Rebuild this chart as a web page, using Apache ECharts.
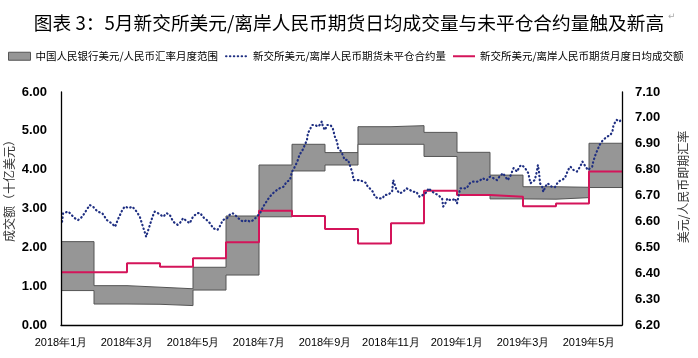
<!DOCTYPE html>
<html><head><meta charset="utf-8">
<script src="https://cdn.jsdelivr.net/npm/echarts@6/dist/echarts.min.js"></script>
<style>html,body{margin:0;padding:0;background:#fff}#c{width:698px;height:358px}</style>
</head><body><div id="c"></div>
<script>
// ---------------- data ----------------
const chartTitle = '图表 3：5月新交所美元/离岸人民币期货日均成交量与未平仓合约量触及新高';
const leftAxisTitle = '成交额（十亿美元）';
const rightAxisTitle = '美元/人民币即期汇率';
const seriesNames = ['中国人民银行美元/人民币汇率月度范围', '新交所美元/离岸人民币期货未平仓合约量', '新交所美元/离岸人民币期货月度日均成交额'];

const months = ['2018-01','2018-02','2018-03','2018-04','2018-05','2018-06','2018-07','2018-08','2018-09','2018-10','2018-11','2018-12','2019-01','2019-02','2019-03','2019-04','2019-05'];
const bandLow  = [6.333, 6.281, 6.280, 6.275, 6.335, 6.393, 6.618, 6.795, 6.818, 6.898, 6.898, 6.851, 6.702, 6.687, 6.686, 6.692, 6.731];
const bandHigh = [6.522, 6.352, 6.346, 6.340, 6.423, 6.621, 6.818, 6.898, 6.866, 6.966, 6.970, 6.944, 6.867, 6.779, 6.734, 6.732, 6.902];
const avgVolume = [1.36, 1.36, 1.59, 1.50, 1.72, 2.13, 2.94, 2.81, 2.47, 2.10, 2.62, 3.46, 3.35, 3.30, 3.06, 3.13, 3.95];

const oiDates = ['2018-01-02','2018-01-03','2018-01-08','2018-01-11','2018-01-14','2018-01-17','2018-01-21','2018-01-24','2018-01-28','2018-01-31',
'2018-02-04','2018-02-08','2018-02-12','2018-02-16','2018-02-19','2018-02-21','2018-02-25','2018-02-27',
'2018-03-03','2018-03-06','2018-03-10','2018-03-13','2018-03-16','2018-03-18','2018-03-19','2018-03-21','2018-03-25','2018-03-27','2018-03-30',
'2018-04-04','2018-04-07','2018-04-10','2018-04-13','2018-04-17','2018-04-19','2018-04-22','2018-04-26','2018-04-28',
'2018-05-01','2018-05-05','2018-05-08','2018-05-10','2018-05-14','2018-05-17','2018-05-20','2018-05-24','2018-05-26','2018-05-29',
'2018-06-02','2018-06-04','2018-06-07','2018-06-11','2018-06-14','2018-06-17','2018-06-20','2018-06-23','2018-06-26','2018-06-29',
'2018-07-02','2018-07-05','2018-07-08','2018-07-11','2018-07-14','2018-07-18','2018-07-21','2018-07-24','2018-07-27','2018-07-30',
'2018-08-01','2018-08-03','2018-08-06','2018-08-08','2018-08-11','2018-08-15','2018-08-16','2018-08-20','2018-08-23','2018-08-25','2018-08-27','2018-08-29','2018-08-30',
'2018-09-01','2018-09-03','2018-09-06','2018-09-07','2018-09-08','2018-09-10','2018-09-12','2018-09-13','2018-09-14','2018-09-16','2018-09-17','2018-09-19','2018-09-22','2018-09-24','2018-09-26','2018-09-27',
'2018-10-01','2018-10-03','2018-10-06','2018-10-09','2018-10-10','2018-10-12','2018-10-15','2018-10-17','2018-10-20','2018-10-24','2018-10-26','2018-10-29',
'2018-11-02','2018-11-03','2018-11-04','2018-11-06','2018-11-09','2018-11-12','2018-11-15','2018-11-18','2018-11-21','2018-11-24','2018-11-27','2018-11-30',
'2018-12-04','2018-12-05','2018-12-09','2018-12-11','2018-12-14','2018-12-18','2018-12-19','2018-12-21','2018-12-23','2018-12-25','2018-12-28','2018-12-30',
'2019-01-01','2019-01-02','2019-01-04','2019-01-07','2019-01-10','2019-01-13','2019-01-16','2019-01-20','2019-01-23','2019-01-25','2019-01-29',
'2019-02-01','2019-02-04','2019-02-07','2019-02-09','2019-02-12','2019-02-16','2019-02-18','2019-02-21','2019-02-24','2019-02-26','2019-02-28',
'2019-03-03','2019-03-06','2019-03-08','2019-03-10','2019-03-12','2019-03-14','2019-03-15','2019-03-16','2019-03-17','2019-03-19','2019-03-20','2019-03-22','2019-03-24','2019-03-28','2019-03-31',
'2019-04-03','2019-04-06','2019-04-09','2019-04-12','2019-04-14','2019-04-17','2019-04-20','2019-04-23','2019-04-25','2019-04-27','2019-04-30',
'2019-05-04','2019-05-05','2019-05-07','2019-05-09','2019-05-11','2019-05-14','2019-05-18','2019-05-21','2019-05-23','2019-05-24','2019-05-27','2019-05-30','2019-05-31'];
const oiValues = [2.66,2.88,2.92,2.83,2.75,2.70,2.79,2.92,3.09,3.05,
2.92,2.88,2.70,2.62,2.53,2.70,2.96,3.05,
3.01,3.05,2.92,2.79,2.53,2.36,2.27,2.45,2.79,2.92,2.88,
2.79,2.88,2.83,2.66,2.58,2.62,2.75,2.66,2.62,
2.79,2.88,2.88,2.79,2.70,2.62,2.49,2.45,2.53,2.70,
2.75,2.83,2.88,2.79,2.70,2.66,2.70,2.66,2.70,2.79,
2.88,3.05,3.18,3.30,3.39,3.48,3.53,3.56,3.69,3.73,
3.95,4.04,4.21,4.38,4.51,4.76,4.94,5.15,5.15,5.11,5.15,5.24,5.11,
5.02,5.15,5.15,5.15,5.07,4.85,4.72,4.55,4.51,4.46,4.38,4.25,4.25,4.08,3.91,3.73,
3.73,3.73,3.69,3.65,3.56,3.52,3.43,3.30,3.26,3.26,3.35,3.35,
3.43,3.73,3.69,3.48,3.39,3.43,3.52,3.48,3.43,3.43,3.30,3.35,
3.43,3.52,3.43,3.39,3.35,3.26,3.05,3.13,3.26,3.22,3.22,3.26,
3.13,3.09,3.52,3.52,3.52,3.65,3.69,3.69,3.73,3.78,3.73,
3.82,3.78,3.73,3.82,3.91,3.73,3.82,4.04,3.95,4.08,4.12,
4.04,3.91,3.65,3.69,3.73,3.95,4.12,3.95,3.65,3.56,3.43,3.56,3.65,3.56,3.55,
3.69,3.73,3.78,3.99,4.08,3.99,3.95,4.08,4.21,4.12,3.99,
4.08,4.21,4.38,4.51,4.64,4.76,4.85,4.89,4.98,5.15,5.28,5.24,5.32];

// ---------------- helpers ----------------
function monthIndexOf(dateStr) {
  const p = dateStr.split('-').map(Number);
  const idx = (p[0] - 2018) * 12 + (p[1] - 1);
  if (p.length < 3) return idx;
  const dim = new Date(p[0], p[1], 0).getDate();
  return idx + (p[2] - 1) / dim;
}
function stepData(vals) {
  const d = months.map((m, i) => [monthIndexOf(m), vals[i]]);
  d.push([monthIndexOf(months[months.length - 1]) + 1, vals[vals.length - 1]]);
  return d;
}
const bandLowData = stepData(bandLow);
const bandHighData = stepData(bandHigh);
const volumeData = stepData(avgVolume);
const oiData = oiDates.map((d, i) => [monthIndexOf(d), oiValues[i]]);

const chart = echarts.init(document.getElementById('c'), null, {renderer: 'canvas'});
const axisFont = 'Liberation Sans, Arial, sans-serif';
const cjkFont = 'Noto Sans CJK SC, sans-serif';
const bandGray = '#969696';
const bandEdge = '#555';

function legendAt(left, item) {
  return {
    left: left, top: 51, padding: 0, itemGap: 0, itemWidth: 22, itemHeight: 8,
    textStyle: {fontSize: 10.5, color: '#000', fontFamily: cjkFont},
    data: [item]
  };
}

chart.setOption({
  animation: false,
  backgroundColor: '#fff',
  title: {
    text: chartTitle, left: 'center', top: 9,
    textStyle: {fontSize: 18.7, fontWeight: 'normal', color: '#000', fontFamily: cjkFont}
  },
  legend: [
    legendAt(8, {name: seriesNames[0], icon: 'rect', itemStyle: {color: bandGray, borderColor: bandEdge, borderWidth: 1}}),
    legendAt(225, {name: seriesNames[1], itemStyle: {opacity: 0}}),
    legendAt(452, {name: seriesNames[2], itemStyle: {opacity: 0}})
  ],
  grid: {left: 61, right: 76, top: 92, bottom: 33},
  xAxis: {
    type: 'value', min: 0, max: 17, interval: 2, z: 10,
    axisLine: {show: true, lineStyle: {color: '#000', width: 1.3}},
    axisTick: {show: false}, splitLine: {show: false},
    axisLabel: {
      margin: 12, fontSize: 11, color: '#000', fontFamily: axisFont, showMaxLabel: false,
      formatter: v => {
        if (Math.abs(v - Math.round(v)) > 1e-6 || v >= 17) return '';
        const y = 2018 + Math.floor(v / 12), m = v % 12 + 1;
        return y + '年' + m + '月';
      }
    }
  },
  yAxis: [
    {
      type: 'value', min: 0, max: 6, interval: 1, position: 'left', z: 10,
      axisLine: {show: true, lineStyle: {color: '#000', width: 1.3}},
      axisTick: {show: false}, splitLine: {show: false},
      axisLabel: {margin: 14, fontSize: 13, fontWeight: 'bold', color: '#000', fontFamily: axisFont, formatter: v => v.toFixed(2)}
    },
    {
      type: 'value', min: 6.2, max: 7.1, interval: 0.1, position: 'right', z: 10,
      axisLine: {show: true, lineStyle: {color: '#000', width: 1.3}},
      axisTick: {show: false}, splitLine: {show: false},
      axisLabel: {margin: 13, fontSize: 13, fontWeight: 'bold', color: '#000', fontFamily: axisFont, formatter: v => v.toFixed(2)}
    }
  ],
  graphic: [
    {type: 'text', x: 9, y: 188, rotation: Math.PI / 2,
     style: {text: leftAxisTitle, fill: '#333', font: '12px ' + cjkFont, textAlign: 'center', textVerticalAlign: 'middle'}},
    {type: 'text', x: 683, y: 187, rotation: Math.PI / 2,
     style: {text: rightAxisTitle, fill: '#333', font: '12px ' + cjkFont, textAlign: 'center', textVerticalAlign: 'middle'}},
    {type: 'text', left: 668, top: 12, style: {text: '↵', fill: '#aaa', font: '9px DejaVu Sans'}}
  ],
  series: [
    {
      name: seriesNames[0], type: 'line', yAxisIndex: 1, step: 'end',
      data: bandHighData, symbol: 'none', z: 1,
      itemStyle: {color: bandGray},
      lineStyle: {color: bandEdge, width: 1},
      areaStyle: {color: bandGray, opacity: 1, origin: 'start'}
    },
    {
      name: 'bandLow', type: 'line', yAxisIndex: 1, step: 'end',
      data: bandLowData, symbol: 'none', z: 2,
      lineStyle: {color: bandEdge, width: 1},
      areaStyle: {color: '#fff', opacity: 1, origin: 'start'}
    },
    {
      name: seriesNames[2], type: 'line', yAxisIndex: 0, step: 'end',
      data: volumeData, symbol: 'none', z: 3,
      itemStyle: {color: '#d4145a'},
      lineStyle: {color: '#d4145a', width: 2}
    },
    {
      name: seriesNames[1], type: 'line', yAxisIndex: 0,
      data: oiData, symbol: 'none', z: 4,
      itemStyle: {color: '#1f2f82'},
      lineStyle: {color: '#1f2f82', width: 2.2, type: [0.5, 3.4], cap: 'round', join: 'round'}
    }
  ]
});
</script>
</body></html>
